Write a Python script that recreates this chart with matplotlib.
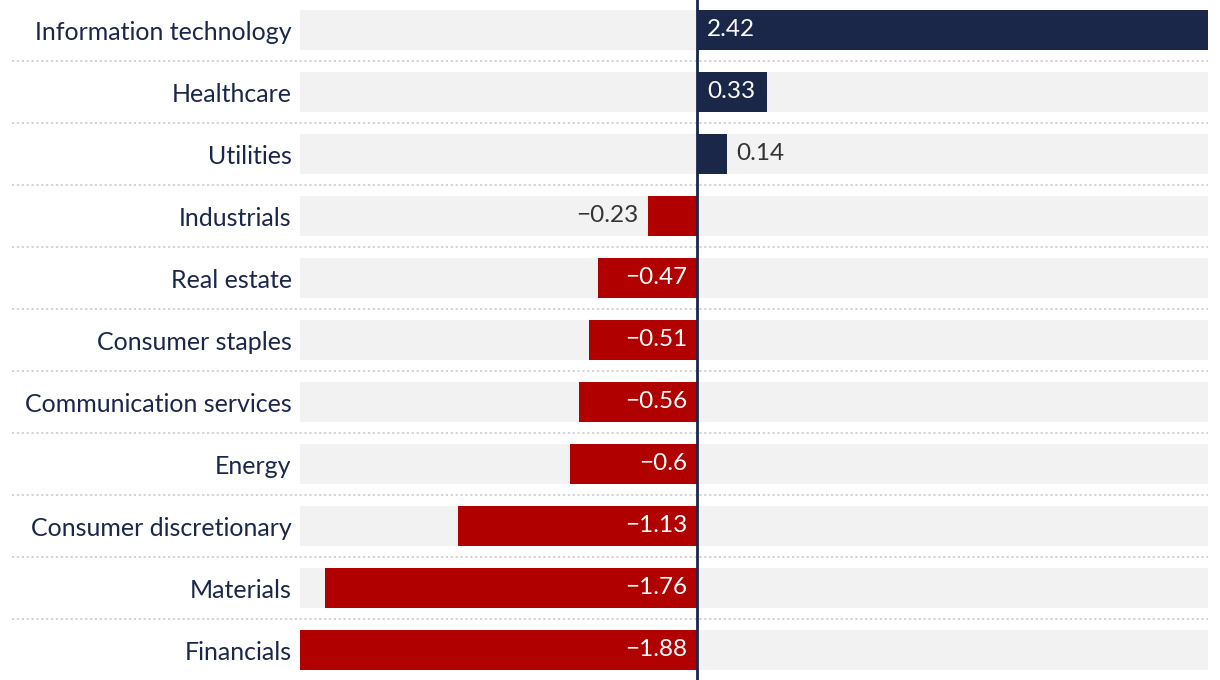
import matplotlib
matplotlib.use("Agg")
import matplotlib.pyplot as plt

plt.rcParams['font.family'] = ['Lato', 'DejaVu Sans']

sectors = ["Information technology", "Healthcare", "Utilities", "Industrials",
           "Real estate", "Consumer staples", "Communication services", "Energy",
           "Consumer discretionary", "Materials", "Financials"]
values = [2.42, 0.33, 0.14, -0.23, -0.47, -0.51, -0.56, -0.6, -1.13, -1.76, -1.88]
labels = ["2.42", "0.33", "0.14", "\u22120.23", "\u22120.47", "\u22120.51",
          "\u22120.56", "\u22120.6", "\u22121.13", "\u22121.76", "\u22121.88"]

NAVY = "#1b2748"
RED = "#b00000"
BG = "#f2f2f2"
TEXT = "#1b2748"

W, H = 1220, 680
fig = plt.figure(figsize=(W / 100, H / 100), dpi=100)
ax = fig.add_axes([300 / W, 0, 908 / W, 1])

xmin, xmax = min(values), max(values)
n = len(sectors)
ys = list(range(n))
bh = 40 / 62

# background bars
ax.barh(ys, [xmax - xmin] * n, left=xmin, height=bh, color=BG, zorder=1)
colors = [NAVY if v > 0 else RED for v in values]
ax.barh(ys, values, height=bh, color=colors, zorder=2)

ax.set_xlim(xmin, xmax)
ax.set_ylim((H - 30) / 62, -30 / 62)

# px per data unit
ppu = 908 / (xmax - xmin)
pad = 10 / ppu
for y, v, lab in zip(ys, values, labels):
    inside = abs(v) * ppu > 60
    if v > 0:
        x, ha = (pad, 'left') if inside else (v + pad, 'left')
    else:
        x, ha = (-pad, 'right') if inside else (v - pad, 'right')
    ax.text(x, y, lab, ha=ha, va='center', fontsize=17.5, zorder=4,
            color='white' if inside else '#333333')

# dotted separators across the whole row, labels included
for y in ys[:-1]:
    ax.axhline(y + 0.5, xmin=(12 - 300) / 908, xmax=1, color='#d0d0d0', lw=1.3,
               ls=(0, (1.2, 1.5)), clip_on=False, zorder=0)

ax.axvline(0, color=NAVY, lw=2, zorder=3)

ax.set_yticks(ys)
ax.set_yticklabels(sectors, fontsize=18, color=TEXT)
ax.tick_params(axis='y', length=0, pad=6)
ax.set_xticks([])
for s in ax.spines.values():
    s.set_visible(False)

fig.savefig("out.png", dpi=100)
